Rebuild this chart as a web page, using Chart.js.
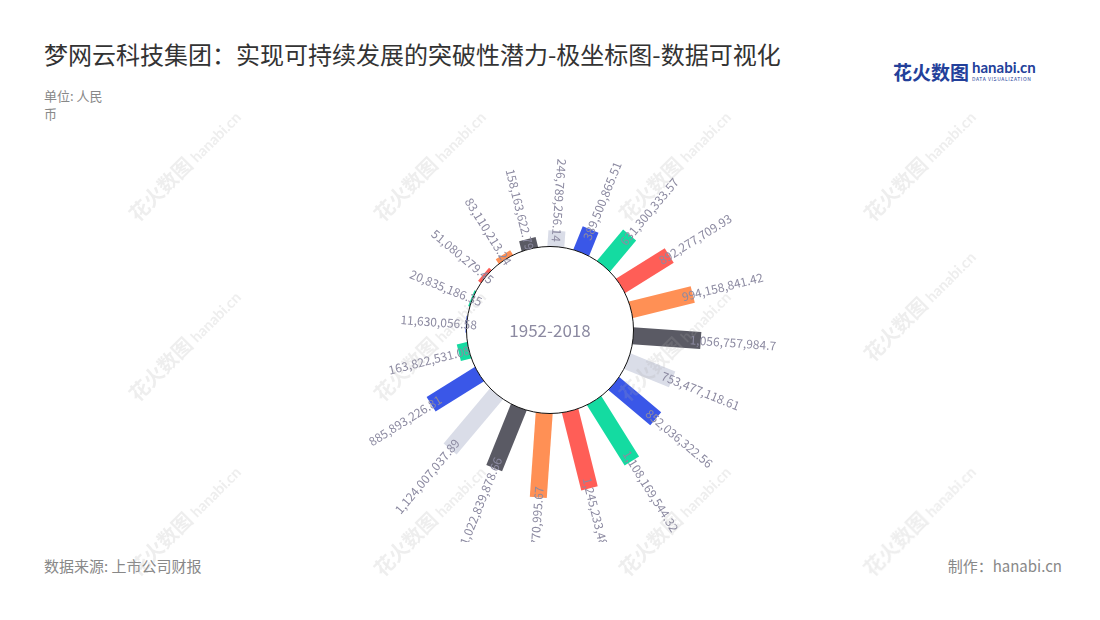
<!DOCTYPE html>
<html>
<head>
<meta charset="utf-8">
<title>梦网云科技集团 极坐标图</title>
<script src="https://cdn.jsdelivr.net/npm/chart.js@4.4.1/dist/chart.umd.min.js"></script>
<style>
  body { margin: 0; background: #fff; font-family: "Noto Sans CJK SC", "Noto Sans", sans-serif; }
  #page { position: relative; width: 1100px; height: 620px; overflow: hidden; }
  #title { position: absolute; left: 44px; top: 36px; font-size: 24px; color: #333; white-space: nowrap; }
  #unit { position: absolute; left: 44px; top: 87px; font-size: 13px; line-height: 18px; color: #888; }
  #source { position: absolute; left: 44px; top: 555px; font-size: 15px; color: #888; }
  #maker { position: absolute; right: 38px; top: 555px; font-size: 15px; color: #888; }
  #logo { position: absolute; left: 893px; top: 58px; white-space: nowrap; }
  #logo .cn { font-size: 19px; font-weight: bold; color: #23409a; vertical-align: top; }
  #logo .en { display: inline-block; margin-left: 3px; vertical-align: top; line-height: 1; }
  #logo .en b { display: block; font-family: "Lato", sans-serif; font-size: 15px; color: #23409a; margin-top: 2px; }
  #logo .en i { display: block; font-style: normal; font-size: 5px; letter-spacing: 0.6px; color: #23409a; margin-top: 1px; }
  #chartBox { position: absolute; left: 0; top: 118px; width: 1100px; height: 424px; }
  .wm { position: absolute; transform: rotate(-45deg); color: rgba(170,170,170,0.2); font-weight: bold; font-size: 20px; white-space: nowrap; pointer-events: none; }
  .wm span { font-family: "Lato", sans-serif; font-size: 15px; margin-left: 4px; }
</style>
</head>
<body>
<div id="page">
  <div id="title">梦网云科技集团：实现可持续发展的突破性潜力-极坐标图-数据可视化</div>
  <div id="unit">单位: 人民<br>币</div>
  <div id="logo"><span class="cn">花火数图</span><span class="en"><b>hanabi.cn</b><i>DATA VISUALIZATION</i></span></div>
  <div id="chartBox"><canvas id="chart"></canvas></div>
  <div id="source">数据来源: 上市公司财报</div>
  <div id="maker">制作：hanabi.cn</div>
</div>

<script>
  // one bar per year, in order; the first bar sits at the left, just above centre
  const categories = ['1999', '2000', '2001', '2002', '2003', '2004', '2005', '2006', '2007', '2008',
                      '2009', '2010', '2011', '2012', '2013', '2014', '2015', '2016', '2017', '2018'];
  const values = [11630056.58, 20835186.35, 51080279.45, 83110213.24, 158163622.79,
                  246789256.14, 389500865.51, 631300333.57, 892277709.93, 994158841.42,
                  1056757984.7, 753477118.61, 852036322.56, 1108169544.32, 1245233487,
                  1317770995.67, 1022839878.66, 1124007037.89, 885893226.81, 163822531.08];
  const centerLabel = '1952-2018';

  const palette = ['#3a57e8', '#14dba1', '#ff5e57', '#ff9055', '#5a5a64', '#dadde8'];
  const BAR_W = 17;
  const LABEL_COLOR = '#8c8aa1';

  const fmt = new Intl.NumberFormat('en-US', { maximumFractionDigits: 2 });

  // draws each polar arc as a straight bar starting at the inner circle
  const radialBars = {
    id: 'radialBars',
    beforeDatasetsDraw(chart) {
      const ctx = chart.ctx;
      const meta = chart.getDatasetMeta(0);
      const scale = chart.scales.r;
      const cx = scale.xCenter, cy = scale.yCenter;
      const r0 = scale.getDistanceFromCenterForValue(0);

      meta.data.forEach((arc) => {
        const mid = (arc.startAngle + arc.endAngle) / 2;
        ctx.save();
        ctx.translate(cx, cy);
        ctx.rotate(mid);
        ctx.fillStyle = arc.options.backgroundColor;
        ctx.fillRect(r0 - 1, -BAR_W / 2, arc.outerRadius - r0 + 1, BAR_W);
        ctx.restore();
      });

      ctx.save();
      ctx.beginPath();
      ctx.arc(cx, cy, r0, 0, Math.PI * 2);
      ctx.fillStyle = '#fff';
      ctx.fill();
      ctx.lineWidth = 1;
      ctx.strokeStyle = '#111';
      ctx.stroke();
      ctx.fillStyle = LABEL_COLOR;
      ctx.font = '17px "Noto Sans CJK SC"';
      ctx.textAlign = 'center';
      ctx.textBaseline = 'middle';
      ctx.fillText(centerLabel, cx, cy + 1);
      ctx.restore();

      meta.data.forEach((arc, i) => {
        const mid = (arc.startAngle + arc.endAngle) / 2;
        const deg = ((mid * 180 / Math.PI + 90) % 360 + 360) % 360;
        const flip = deg > 175 || deg < 10;
        const d = arc.outerRadius - 11;
        ctx.save();
        ctx.translate(cx, cy);
        ctx.rotate(flip ? mid + Math.PI : mid);
        ctx.font = '12px "Noto Sans CJK SC"';
        ctx.fillStyle = LABEL_COLOR;
        ctx.textBaseline = 'middle';
        const text = fmt.format(values[i]);
        if (flip) {
          ctx.textAlign = 'right';
          ctx.fillText(text, -d, 0);
        } else {
          ctx.textAlign = 'left';
          ctx.fillText(text, d, 0);
        }
        ctx.restore();
      });
      return false;
    }
  };

  new Chart('chart', {
    type: 'polarArea',
    data: {
      labels: categories,
      datasets: [{
        data: values,
        backgroundColor: values.map((v, i) => palette[i % palette.length]),
        borderWidth: 0
      }]
    },
    options: {
      responsive: true,
      maintainAspectRatio: false,
      animation: false,
      layout: { padding: 0 },
      plugins: { legend: { display: false }, tooltip: { enabled: false } },
      scales: {
        r: {
          startAngle: 265,
          min: -1304700000,
          max: 2007800000,
          ticks: { display: false },
          grid: { display: false },
          angleLines: { display: false },
          pointLabels: { display: false }
        }
      }
    },
    plugins: [radialBars]
  });

  // faint watermark grid
  const page = document.getElementById('page');
  [[110, 150], [355, 150], [600, 150], [845, 150],
   [110, 330], [355, 330], [600, 330], [845, 290],
   [110, 505], [355, 505], [600, 505], [845, 505]].forEach(([x, y]) => {
    const el = document.createElement('div');
    el.className = 'wm';
    el.style.left = x + 'px';
    el.style.top = y + 'px';
    el.innerHTML = '花火数图<span>hanabi.cn</span>';
    page.appendChild(el);
  });
</script>
</body>
</html>
